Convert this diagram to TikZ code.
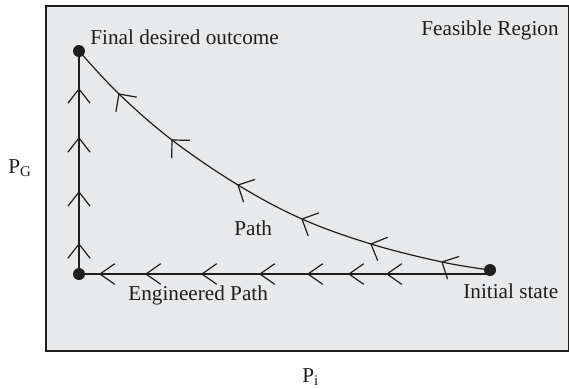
\documentclass[tikz,border=0pt]{standalone}
\usepackage{fontspec}
\setmainfont{Liberation Serif}

\definecolor{regionfill}{HTML}{E8E9EB}
\definecolor{ink}{HTML}{1E1E1E}

\tikzset{
	every node/.style={inner sep=0pt, text=ink, font=\fontsize{10.6}{12}\selectfont},
	flow/.style={draw=ink, line width=0.6pt},
	pics/chevron/.style={code={\draw[flow] (180-#1:18) -- (0,0) -- (180+#1:18);}},
}

\begin{document}
\begin{tikzpicture}[x=0.5pt,y=-0.5pt]
	\useasboundingbox (0,0) rectangle (569,388);
	
	\draw[fill=regionfill, draw=ink, line width=0.9pt] (46,6) rectangle (568.5,351);
	
	\coordinate (final) at (79,51);
	\coordinate (corner) at (79,274);
	\coordinate (initial) at (490,270);
	
	% direct path
	\draw[flow] plot[smooth, tension=0.6] coordinates {(final) (119,94) (172,140) (238,185) (302,219) (371,244) (442,262) (initial)};
	\foreach \x/\y/\a in {119/94/125, 172/140/134, 238/185/153, 302/219/155, 371/244/157, 442/262/153}
		\pic[rotate=\a] at (\x,\y) {chevron=45};
	
	% engineered path
	\draw[flow] (initial |- corner) -- (corner) -- (final);
	\foreach \x in {100,146,202,260,308,349,387}
		\pic[rotate=180] at (\x,274) {chevron=35};
	\foreach \y in {89,138,192,244}
		\pic[rotate=90] at (79,\y) {chevron=38};
	
	\fill[ink] (final) circle[radius=3pt];
	\fill[ink] (corner) circle[radius=3pt];
	\fill[ink] (initial) circle[radius=3pt];
	
	\node[anchor=base west] (finallabel) at (90,44) {Final desired outcome};
	\node[anchor=base west] (regionlabel) at (421,35) {Feasible Region};
	\node[anchor=base west] (pathlabel) at (234,235) {Path};
	\node[anchor=base west] (englabel) at (128,300) {Engineered Path};
	\node[anchor=base west] (initlabel) at (463,298) {Initial state};
	
	\node[anchor=base west] (ylabel) at (8,173) {P\textsubscript{G}};
	\node[anchor=base west] (xlabel) at (302,382) {P\textsubscript{i}};
	
\end{tikzpicture}
\end{document}
